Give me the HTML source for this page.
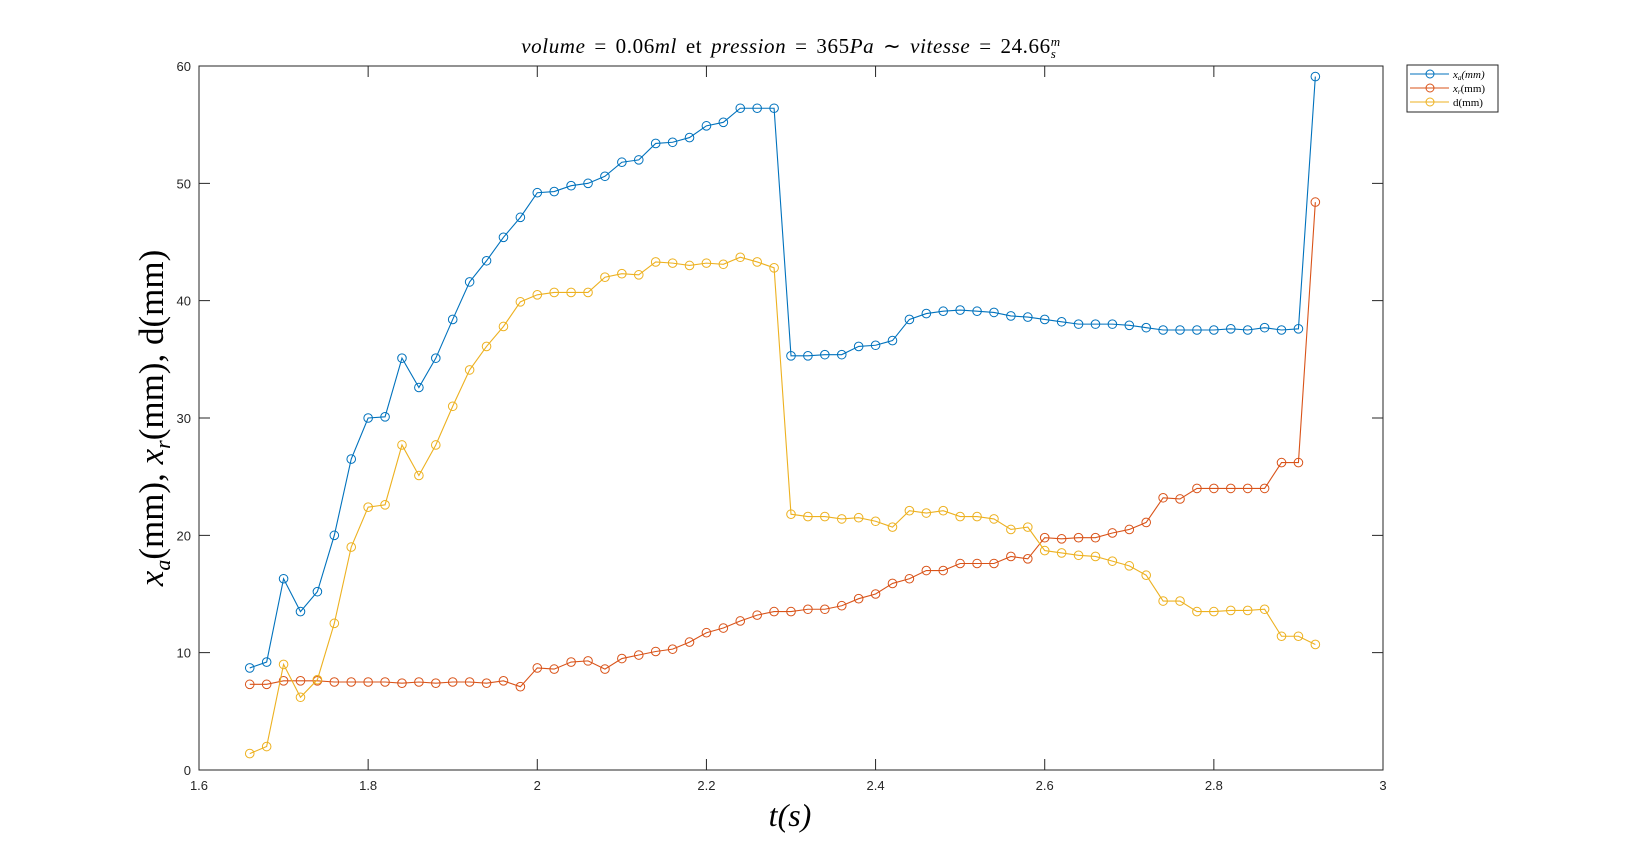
<!DOCTYPE html>
<html><head><meta charset="utf-8"><style>
body{margin:0;background:#fff;}
svg{display:block;font-family:"Liberation Sans",sans-serif;}
</style></head><body>
<svg id="chart" width="1644" height="866" xmlns="http://www.w3.org/2000/svg">
<rect width="1644" height="866" fill="#fff"/>
<g id="plot"></g>
</svg>
<script>
const times = [1.66,1.68,1.70,1.72,1.74,1.76,1.78,1.80,1.82,1.84,1.86,1.88,1.90,1.92,1.94,1.96,1.98,2.00,2.02,2.04,2.06,2.08,2.10,2.12,2.14,2.16,2.18,2.20,2.22,2.24,2.26,2.28,2.30,2.32,2.34,2.36,2.38,2.40,2.42,2.44,2.46,2.48,2.50,2.52,2.54,2.56,2.58,2.60,2.62,2.64,2.66,2.68,2.70,2.72,2.74,2.76,2.78,2.80,2.82,2.84,2.86,2.88,2.90,2.92];
const xaValues = [8.7,9.2,16.3,13.5,15.2,20,26.5,30,30.1,35.1,32.6,35.1,38.4,41.6,43.4,45.4,47.1,49.2,49.3,49.8,50,50.6,51.8,52,53.4,53.5,53.9,54.9,55.2,56.4,56.4,56.4,35.3,35.3,35.4,35.4,36.1,36.2,36.6,38.4,38.9,39.1,39.2,39.1,39,38.7,38.6,38.4,38.2,38,38,38,37.9,37.7,37.5,37.5,37.5,37.5,37.6,37.5,37.7,37.5,37.6,59.1];
const xrValues = [7.3,7.3,7.6,7.6,7.6,7.5,7.5,7.5,7.5,7.4,7.5,7.4,7.5,7.5,7.4,7.6,7.1,8.7,8.6,9.2,9.3,8.6,9.5,9.8,10.1,10.3,10.9,11.7,12.1,12.7,13.2,13.5,13.5,13.7,13.7,14,14.6,15,15.9,16.3,17,17,17.6,17.6,17.6,18.2,18,19.8,19.7,19.8,19.8,20.2,20.5,21.1,23.2,23.1,24,24,24,24,24,26.2,26.2,48.4];
const dValues = [1.4,2.0,9.0,6.2,7.7,12.5,19,22.4,22.6,27.7,25.1,27.7,31,34.1,36.1,37.8,39.9,40.5,40.7,40.7,40.7,42,42.3,42.2,43.3,43.2,43,43.2,43.1,43.7,43.3,42.8,21.8,21.6,21.6,21.4,21.5,21.2,20.7,22.1,21.9,22.1,21.6,21.6,21.4,20.5,20.7,18.7,18.5,18.3,18.2,17.8,17.4,16.6,14.4,14.4,13.5,13.5,13.6,13.6,13.7,11.4,11.4,10.7];
const xTicks = [1.6,1.8,2,2.2,2.4,2.6,2.8,3];
const xTickLabels = ["1.6","1.8","2","2.2","2.4","2.6","2.8","3"];
const yTicks = [0,10,20,30,40,50,60];
const yTickLabels = ["0","10","20","30","40","50","60"];

const L=199,R=1383,T=66,B=770;
const X=v=>L+(v-1.6)/(3-1.6)*(R-L);
const Y=v=>B-(v/60)*(B-T);
const NS="http://www.w3.org/2000/svg";
const g=document.getElementById('plot');
function mk(tag,attrs,parent){const e=document.createElementNS(NS,tag);for(const k in attrs)e.setAttribute(k,attrs[k]);(parent||g).appendChild(e);return e;}

let box=mk('rect',{x:L,y:T,width:R-L,height:B-T,fill:'none',stroke:'#262626','stroke-width':1});



xTicks.forEach((t,i)=>{
  const x=X(t);
  const tk=mk('path',{d:`M${x},${B}v-11M${x},${T}v11`,stroke:'#262626','stroke-width':1});
  
  
  const lb=mk('text',{x:x,y:B+20,'text-anchor':'middle','font-size':13,fill:'#262626'});
  lb.textContent=xTickLabels[i];
  
  
});
yTicks.forEach((t,i)=>{
  const y=Y(t);
  const tk=mk('path',{d:`M${L},${y}h11M${R},${y}h-11`,stroke:'#262626','stroke-width':1});
  
  
  const lb=mk('text',{x:L-8,y:y+5,'text-anchor':'end','font-size':13,fill:'#262626'});
  lb.textContent=yTickLabels[i];
  
  
});

const series=[[xaValues,'#0072BD','series-xa'],[xrValues,'#D95319','series-xr'],[dValues,'#EDB120','series-d']];
series.forEach(([vals,col,name])=>{
  const grp=mk('g',{});
  
  
  const pts=vals.map((v,i)=>X(times[i])+','+Y(v)).join(' ');
  const pl=mk('polyline',{points:pts,fill:'none',stroke:col,'stroke-width':1.1},grp);
  
  
  vals.forEach((v,i)=>{
    const c=mk('circle',{cx:X(times[i]),cy:Y(v),r:4.3,fill:'none',stroke:col,'stroke-width':1},grp);
    
    
  });
});
</script>
<svg style="position:absolute;left:0;top:0" width="1644" height="866" xmlns="http://www.w3.org/2000/svg">
<text x="791" y="53" text-anchor="middle" font-family="Liberation Serif,serif" font-size="21" letter-spacing="0.6" word-spacing="3" fill="#000"><tspan font-style="italic">volume</tspan> = 0.06<tspan font-style="italic">ml</tspan> et <tspan font-style="italic">pression</tspan> = 365<tspan font-style="italic">Pa</tspan> ∼ <tspan font-style="italic">vitesse</tspan> = 24.66<tspan font-style="italic" font-size="13" dy="-7">m</tspan><tspan font-style="italic" font-size="13" dx="-10" dy="12">s</tspan></text>
<text x="790" y="826" text-anchor="middle" font-family="Liberation Serif,serif" font-size="32" font-style="italic">t(s)</text>
<text transform="translate(163,418) rotate(-90)" text-anchor="middle" font-family="Liberation Serif,serif" font-size="35"><tspan font-style="italic">x</tspan><tspan font-style="italic" font-size="22" dy="7">a</tspan><tspan dy="-7">(mm), </tspan><tspan font-style="italic">x</tspan><tspan font-style="italic" font-size="22" dy="7">r</tspan><tspan dy="-7">(mm), d(mm)</tspan></text>
<g>
<rect x="1407" y="65" width="91" height="47" fill="#fff" stroke="#262626" stroke-width="1"/>
<g><line x1="1410" y1="74" x2="1449" y2="74" stroke="#0072BD"/><circle cx="1430" cy="74" r="4" fill="none" stroke="#0072BD"/><text x="1453" y="78" font-family="Liberation Serif,serif" font-size="11" font-style="italic">x<tspan font-size="7" dy="2">a</tspan><tspan dy="-2">(mm)</tspan></text></g>
<g><line x1="1410" y1="88" x2="1449" y2="88" stroke="#D95319"/><circle cx="1430" cy="88" r="4" fill="none" stroke="#D95319"/><text x="1453" y="92" font-family="Liberation Serif,serif" font-size="11"><tspan font-style="italic">x</tspan><tspan font-size="7" font-style="italic" dy="2">r</tspan><tspan dy="-2">(mm)</tspan></text></g>
<g><line x1="1410" y1="102" x2="1449" y2="102" stroke="#EDB120"/><circle cx="1430" cy="102" r="4" fill="none" stroke="#EDB120"/><text x="1453" y="106" font-family="Liberation Serif,serif" font-size="11">d(mm)</text></g>
</g>
</svg>
</body></html>
